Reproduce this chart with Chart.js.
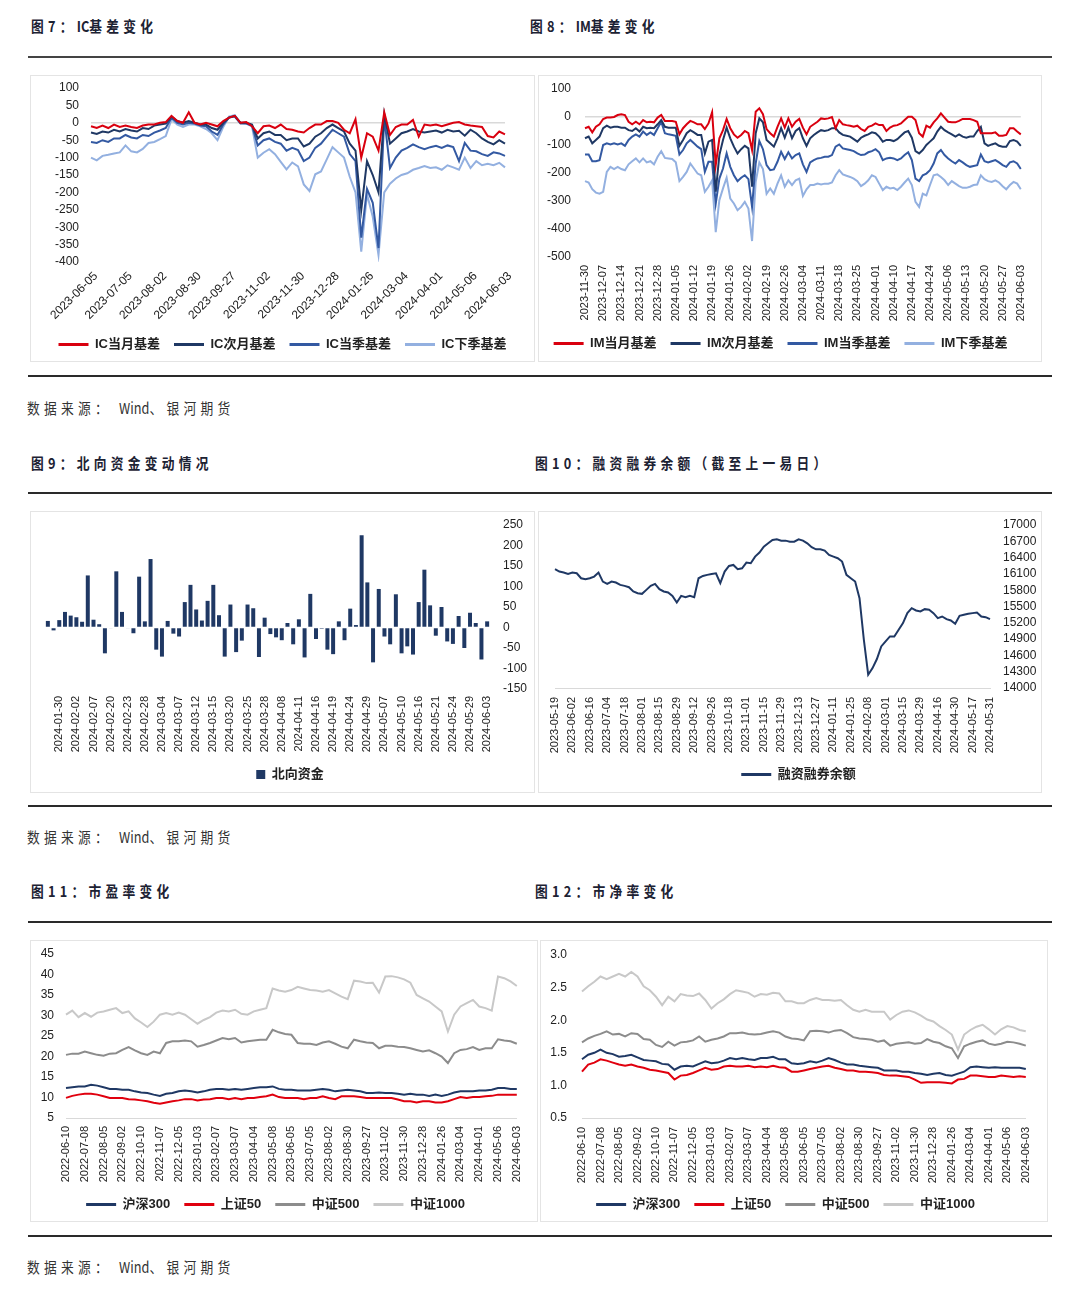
<!DOCTYPE html>
<html>
<head>
<meta charset="utf-8">
<script src="https://cdn.jsdelivr.net/npm/chart.js@4.4.1/dist/chart.umd.min.js"></script>
<style>
body { margin: 0; background: #fff; width: 1080px; height: 1297px; position: relative; overflow: hidden; font-family: "Noto Sans CJK SC", sans-serif; }
.title { position: absolute; font-size: 15px; font-weight: 700; color: #1c2233; letter-spacing: 5px; white-space: nowrap; transform: scaleX(0.85); transform-origin: left top; line-height: 16px; }
.title span, .src span { letter-spacing: 0; }
.src { position: absolute; left: 27px; font-size: 15px; color: #333; letter-spacing: 5px; white-space: nowrap; transform: scaleX(0.85); transform-origin: left top; line-height: 16px; }
.rule { position: absolute; left: 28px; width: 1024px; height: 2px; background: #2a2a2a; }
.box { position: absolute; border: 1px solid #e4e4e4; box-sizing: border-box; }
canvas { position: absolute; }
</style>
</head>
<body>

<div class="title" style="left:31px;top:18px">图7：<span>IC</span>基差变化</div>
<div class="title" style="left:530px;top:18px">图8：<span>IM</span>基差变化</div>
<div class="rule" style="top:56px;background:#444"></div>
<div class="box" style="left:30px;top:75px;width:505px;height:287px"></div>
<div class="box" style="left:538px;top:75px;width:504px;height:287px"></div>
<canvas id="c7" width="505" height="287" style="left:30px;top:75px"></canvas>
<canvas id="c8" width="504" height="287" style="left:538px;top:75px"></canvas>
<div class="rule" style="top:375px"></div>
<div class="src" style="top:400px">数据来源： <span>Wind</span>、银河期货</div>

<div class="title" style="left:31px;top:455px">图9：北向资金变动情况</div>
<div class="title" style="left:535px;top:455px">图10：融资融券余额（截至上一易日）</div>
<div class="rule" style="top:492px"></div>
<div class="box" style="left:30px;top:511px;width:505px;height:282px"></div>
<div class="box" style="left:538px;top:511px;width:504px;height:282px"></div>
<canvas id="c9" width="505" height="282" style="left:30px;top:511px"></canvas>
<canvas id="c10" width="504" height="282" style="left:538px;top:511px"></canvas>
<div class="rule" style="top:805px"></div>
<div class="src" style="top:829px">数据来源： <span>Wind</span>、银河期货</div>

<div class="title" style="left:31px;top:883px">图11：市盈率变化</div>
<div class="title" style="left:535px;top:883px">图12：市净率变化</div>
<div class="rule" style="top:921px"></div>
<div class="box" style="left:30px;top:940px;width:508px;height:282px"></div>
<div class="box" style="left:540px;top:940px;width:508px;height:282px"></div>
<canvas id="c11" width="508" height="282" style="left:30px;top:940px"></canvas>
<canvas id="c12" width="508" height="282" style="left:540px;top:940px"></canvas>
<div class="rule" style="top:1235px"></div>
<div class="src" style="top:1259px">数据来源： <span>Wind</span>、银河期货</div>

<script>
// ---- 图7 IC基差 (6 points between axis labels) ----
const icTicks = ['2023-06-05','2023-07-05','2023-08-02','2023-08-30','2023-09-27','2023-11-02','2023-11-30','2023-12-28','2024-01-26','2024-03-04','2024-04-01','2024-05-06','2024-06-03'];
const icDangyue = [-10,-15,-8,-15,-5,-12,-8,-12,-15,-8,-5,-5,0,2,20,5,0,30,0,-5,0,-5,-10,5,15,20,0,2,-10,-30,-10,-8,-15,-5,-18,-20,-25,-28,-15,-5,-5,5,5,0,-20,-30,10,-100,-30,-40,-80,30,-35,-12,-5,-5,8,-40,-5,-8,-5,-10,-5,0,2,-5,-8,-10,-12,-38,-42,-25,-33];
const icCiyue = [-28,-32,-25,-28,-20,-25,-18,-22,-25,-15,-18,-8,-5,-2,18,5,0,5,0,-5,-5,-15,-20,0,15,20,0,0,-5,-45,-30,-25,-35,-35,-50,-45,-45,-68,-60,-40,-30,-15,-5,-15,-25,-60,-80,-250,-110,-150,-200,25,-60,-45,-30,-25,-18,-25,-28,-25,-22,-28,-20,-25,-23,-37,-20,-30,-45,-55,-62,-50,-60];
const icDangji = [-55,-58,-50,-55,-45,-45,-35,-42,-45,-35,-38,-28,-22,-15,15,0,-5,0,-2,-8,-10,-25,-35,-5,15,18,-2,-2,-8,-65,-50,-45,-55,-60,-80,-72,-78,-110,-100,-72,-60,-40,-20,-30,-40,-90,-110,-330,-190,-230,-360,15,-130,-100,-80,-72,-62,-70,-76,-70,-66,-72,-65,-70,-110,-58,-80,-82,-90,-95,-85,-88,-95];
const icXiaji = [-100,-108,-95,-92,-88,-85,-65,-82,-85,-75,-58,-55,-47,-38,10,-5,-12,-5,-5,-10,-18,-30,-50,-12,18,22,0,-2,-10,-100,-86,-76,-90,-112,-134,-114,-125,-177,-196,-148,-140,-105,-70,-85,-100,-155,-200,-370,-205,-270,-380,-200,-175,-160,-150,-145,-135,-130,-124,-130,-128,-135,-122,-128,-135,-100,-130,-110,-122,-118,-122,-115,-128];

// ---- 图8 IM基差 (daily) ----
const imTicks = ['2023-11-30','2023-12-07','2023-12-14','2023-12-21','2023-12-28','2024-01-05','2024-01-12','2024-01-19','2024-01-26','2024-02-02','2024-02-19','2024-02-26','2024-03-04','2024-03-11','2024-03-18','2024-03-25','2024-04-01','2024-04-10','2024-04-17','2024-04-24','2024-05-06','2024-05-13','2024-05-20','2024-05-27','2024-06-03'];
const imDangyue = [-40,-35,-55,-35,-26,-7,-2,-2,0,7,10,7,-17,-26,-17,-26,-11,-19,-17,-19,-2,7,-14,-14,-14,-17,-62,-40,-26,-14,-19,-26,-26,-43,-23,17,-172,-76,-47,-7,-40,-62,-74,-64,-50,-58,-118,19,31,10,-43,-58,-70,-35,-5,-38,-5,-35,-17,-7,-38,-62,-35,-26,-17,-5,-7,-5,0,-40,-11,-26,-29,-31,-35,-31,-43,-50,-35,-31,-23,-29,-29,-50,-38,-31,-29,-23,-11,1,1,-11,-58,-70,-31,-38,-19,-5,13,-2,-17,-19,-19,-14,-7,-7,-7,-11,-17,-58,-58,-58,-58,-55,-67,-67,-64,-40,-40,-52,-62];
const imCiyue = [-76,-70,-94,-82,-70,-40,-31,-38,-35,-35,-38,-38,-47,-50,-40,-52,-35,-40,-38,-40,-26,-11,-35,-38,-38,-38,-103,-82,-58,-47,-55,-64,-64,-130,-88,-82,-267,-136,-82,-38,-76,-106,-130,-115,-103,-112,-249,-58,-5,-19,-82,-94,-106,-76,-40,-74,-38,-76,-50,-40,-76,-103,-76,-64,-55,-47,-50,-47,-40,-40,-55,-64,-67,-70,-79,-88,-74,-67,-62,-55,-58,-70,-88,-82,-82,-86,-79,-67,-55,-50,-74,-122,-130,-118,-100,-88,-76,-52,-35,-47,-55,-62,-70,-62,-70,-74,-70,-70,-50,-35,-94,-103,-98,-94,-103,-106,-106,-86,-82,-88,-103];
const imDangji = [-134,-134,-158,-158,-154,-100,-94,-98,-94,-98,-94,-103,-82,-70,-62,-70,-52,-64,-55,-64,-40,-17,-58,-62,-64,-67,-134,-118,-94,-82,-94,-106,-115,-196,-160,-160,-309,-220,-184,-130,-178,-208,-229,-217,-208,-222,-321,-166,-86,-115,-172,-190,-187,-160,-124,-150,-126,-148,-136,-130,-169,-196,-162,-154,-148,-146,-142,-142,-136,-106,-98,-112,-115,-118,-122,-130,-136,-134,-126,-122,-115,-126,-154,-148,-146,-148,-154,-148,-136,-126,-154,-220,-229,-208,-202,-190,-166,-130,-118,-136,-148,-158,-166,-154,-162,-172,-178,-175,-172,-134,-158,-162,-158,-154,-162,-172,-178,-162,-158,-166,-186];
const imXiaji = [-229,-234,-258,-270,-274,-267,-196,-178,-186,-178,-186,-190,-169,-158,-148,-162,-148,-162,-158,-169,-142,-122,-146,-148,-150,-162,-229,-214,-196,-166,-184,-202,-208,-267,-249,-226,-411,-297,-255,-217,-291,-309,-333,-321,-303,-327,-443,-232,-162,-186,-274,-255,-274,-238,-208,-249,-226,-243,-226,-220,-282,-258,-243,-243,-238,-241,-238,-238,-234,-208,-190,-205,-210,-214,-220,-229,-247,-238,-226,-208,-214,-238,-261,-249,-255,-253,-261,-249,-234,-220,-243,-303,-321,-274,-280,-243,-208,-205,-214,-226,-243,-229,-238,-247,-253,-253,-249,-243,-241,-208,-222,-229,-232,-226,-234,-247,-258,-243,-232,-238,-258];

// ---- 图9 北向资金 ----
const nbDates = ['2024-01-26','2024-01-29','2024-01-30','2024-01-31','2024-02-01','2024-02-02','2024-02-05','2024-02-06','2024-02-07','2024-02-08','2024-02-19','2024-02-20','2024-02-21','2024-02-22','2024-02-23','2024-02-26','2024-02-27','2024-02-28','2024-02-29','2024-03-01','2024-03-04','2024-03-05','2024-03-06','2024-03-07','2024-03-08','2024-03-11','2024-03-12','2024-03-13','2024-03-14','2024-03-15','2024-03-18','2024-03-19','2024-03-20','2024-03-21','2024-03-22','2024-03-25','2024-03-26','2024-03-27','2024-03-28','2024-04-02','2024-04-03','2024-04-08','2024-04-09','2024-04-10','2024-04-11','2024-04-12','2024-04-15','2024-04-16','2024-04-17','2024-04-18','2024-04-19','2024-04-22','2024-04-23','2024-04-24','2024-04-25','2024-04-26','2024-04-29','2024-04-30','2024-05-06','2024-05-07','2024-05-08','2024-05-09','2024-05-10','2024-05-13','2024-05-14','2024-05-16','2024-05-17','2024-05-20','2024-05-21','2024-05-22','2024-05-23','2024-05-24','2024-05-27','2024-05-28','2024-05-29','2024-05-30','2024-05-31','2024-06-03'];
const nbTicks = ['2024-01-30','2024-02-02','2024-02-07','2024-02-20','2024-02-23','2024-02-28','2024-03-04','2024-03-07','2024-03-12','2024-03-15','2024-03-20','2024-03-25','2024-03-28','2024-04-08','2024-04-11','2024-04-16','2024-04-19','2024-04-24','2024-04-29','2024-05-07','2024-05-10','2024-05-16','2024-05-21','2024-05-24','2024-05-29','2024-06-03'];
const nbValues = [16,-7,18,38,29,25,14,127,19,8,-63,-2,137,38,-2,-14,124,15,167,-54,-71,16,-15,-22,62,104,44,17,65,104,30,-71,56,-60,-32,56,47,-72,24,-16,-24,-31,11,-41,20,-73,82,-28,-3,-54,-65,15,-31,46,6,225,110,-85,94,-22,-41,81,-63,-46,-66,62,141,54,-20,50,-34,-40,28,-50,36,11,-78,15];

// ---- 图10 融资融券余额 (4 points between axis labels) ----
const marginTicks = ['2023-05-19','2023-06-02','2023-06-16','2023-07-04','2023-07-18','2023-08-01','2023-08-15','2023-08-29','2023-09-12','2023-09-26','2023-10-18','2023-11-01','2023-11-15','2023-11-29','2023-12-13','2023-12-27','2024-01-11','2024-01-25','2024-02-08','2024-03-01','2024-03-15','2024-03-29','2024-04-16','2024-04-30','2024-05-17','2024-05-31'];
const marginValues = [16186,16143,16125,16100,16125,16112,16020,16002,16020,16051,16125,15959,15916,15959,15941,15898,15880,15855,15776,15745,15733,15806,15880,15916,15818,15776,15757,15696,15574,15696,15672,15696,15672,16020,16063,16082,16100,16112,15929,16143,16247,16265,16186,16204,16308,16296,16418,16492,16602,16663,16724,16737,16712,16712,16694,16694,16737,16712,16663,16590,16553,16553,16529,16449,16418,16388,16327,16082,16020,15959,15653,14888,14245,14367,14533,14765,14857,14949,14949,15072,15194,15378,15469,15427,15408,15451,15439,15378,15286,15316,15267,15243,15182,15329,15347,15365,15378,15390,15316,15304,15267];

// ---- 图11/12 市盈率、市净率 (3 points between axis labels) ----
const valTicks = ['2022-06-10','2022-07-08','2022-08-05','2022-09-02','2022-10-10','2022-11-07','2022-12-05','2023-01-03','2023-02-07','2023-03-07','2023-04-04','2023-05-08','2023-06-05','2023-07-05','2023-08-02','2023-08-30','2023-09-27','2023-11-02','2023-11-30','2023-12-28','2024-01-26','2024-03-04','2024-04-01','2024-05-06','2024-06-03'];
const pe300 = [12.3,12.5,12.7,12.7,13.1,12.9,12.5,12.1,12.1,11.9,11.9,11.5,11.2,11.1,10.7,10.4,10.9,11.1,11.5,11.7,11.5,11.2,11.5,11.9,12.1,12.1,11.9,12.1,11.9,12.1,12.3,12.5,12.5,12.7,12.1,11.9,11.9,11.7,11.7,11.7,11.9,12.1,11.9,11.5,11.7,11.9,11.7,11.5,11.1,11.1,11.2,11.1,11.1,10.9,10.7,10.9,10.7,10.7,10.4,10.7,10.4,10.7,11.2,11.5,11.5,11.5,11.7,11.7,11.9,12.3,12.3,12.1,12.1];
const pe50 = [9.9,10.4,10.7,10.9,10.9,10.7,10.3,9.9,9.9,9.9,9.6,9.5,9.3,9.1,8.7,8.5,8.8,9.1,9.3,9.6,9.6,9.3,9.5,9.6,9.9,9.9,9.6,9.9,9.6,9.9,9.9,10.1,10.3,10.7,10.1,9.9,9.9,9.9,9.6,9.9,9.9,10.3,9.9,9.6,10.3,10.3,10.3,10.1,9.9,9.9,9.9,9.9,9.9,9.5,9.1,9.1,8.8,9.1,9.1,8.8,8.8,9.1,9.6,10.1,9.9,10.1,10.1,10.3,10.4,10.7,10.7,10.7,10.7];
const pe500 = [20.4,20.7,20.7,21.2,20.8,20.4,20.2,20.7,20.8,21.6,22.3,21.5,20.8,20.4,21.2,20.8,23.3,23.7,23.7,23.9,23.7,22.4,22.8,23.3,23.9,24.5,24.2,24.5,23.4,23.7,23.9,24.1,24.1,26.5,25.9,25.5,25.3,23.3,23.1,23.1,22.8,23.4,23.7,23.1,22.4,22.0,24.1,23.7,23.4,23.3,22.0,22.6,22.6,22.4,22.3,22.0,21.6,21.2,21.5,20.8,20.0,18.4,20.8,21.6,21.8,22.3,21.6,22.0,22.0,24.2,23.9,23.7,23.1];
const pe1000 = [30.2,31.2,29.6,30.6,29.7,30.7,31.0,31.4,31.8,30.6,31.0,29.3,28.3,27.2,28.5,30.2,30.6,30.2,30.7,30.2,29.1,28.0,28.9,29.6,30.7,31.2,31.0,31.4,30.4,30.2,31.0,31.4,31.8,36.6,36.1,35.8,36.2,37.0,36.6,36.2,36.1,35.8,36.2,35.4,34.6,34.0,38.5,38.3,37.9,38.0,35.6,39.5,39.6,39.3,38.8,38.0,35.0,34.2,33.4,32.2,31.0,26.1,30.2,32.2,33.0,33.8,32.2,31.8,31.2,39.5,39.1,38.3,37.2];
const pb300 = [1.40,1.47,1.50,1.55,1.50,1.48,1.44,1.45,1.47,1.43,1.39,1.38,1.37,1.33,1.32,1.24,1.29,1.30,1.29,1.33,1.37,1.34,1.35,1.38,1.42,1.40,1.42,1.40,1.39,1.42,1.42,1.44,1.40,1.40,1.34,1.33,1.34,1.37,1.35,1.38,1.42,1.39,1.35,1.32,1.32,1.30,1.29,1.28,1.27,1.23,1.23,1.23,1.21,1.21,1.19,1.18,1.16,1.18,1.19,1.16,1.15,1.18,1.21,1.28,1.29,1.28,1.27,1.28,1.27,1.27,1.27,1.27,1.25];
const pb50 = [1.21,1.32,1.35,1.40,1.38,1.35,1.32,1.30,1.32,1.29,1.27,1.24,1.23,1.21,1.19,1.09,1.15,1.16,1.19,1.23,1.27,1.24,1.25,1.29,1.30,1.29,1.29,1.30,1.28,1.29,1.28,1.30,1.28,1.27,1.21,1.21,1.23,1.25,1.27,1.29,1.30,1.27,1.25,1.23,1.23,1.21,1.21,1.20,1.19,1.16,1.15,1.15,1.14,1.13,1.09,1.04,1.05,1.05,1.05,1.04,1.03,1.09,1.10,1.15,1.15,1.14,1.13,1.13,1.15,1.14,1.13,1.14,1.13];
const pb500 = [1.66,1.72,1.76,1.79,1.83,1.78,1.79,1.75,1.80,1.79,1.71,1.70,1.62,1.59,1.67,1.61,1.66,1.67,1.69,1.75,1.67,1.70,1.72,1.75,1.80,1.80,1.81,1.79,1.78,1.79,1.81,1.83,1.81,1.75,1.72,1.71,1.69,1.83,1.84,1.83,1.81,1.84,1.85,1.80,1.74,1.72,1.71,1.70,1.67,1.69,1.61,1.64,1.65,1.66,1.64,1.65,1.71,1.67,1.65,1.60,1.57,1.42,1.60,1.64,1.67,1.69,1.64,1.62,1.64,1.67,1.66,1.64,1.61];
const pb1000 = [2.44,2.52,2.59,2.67,2.63,2.67,2.71,2.67,2.74,2.67,2.52,2.46,2.36,2.23,2.36,2.29,2.40,2.38,2.37,2.41,2.31,2.18,2.26,2.32,2.40,2.46,2.44,2.42,2.36,2.40,2.39,2.42,2.41,2.29,2.29,2.26,2.26,2.31,2.34,2.31,2.31,2.30,2.31,2.23,2.16,2.13,2.16,2.13,2.13,2.13,2.01,2.08,2.13,2.15,2.12,2.07,2.01,1.98,1.91,1.85,1.78,1.55,1.78,1.85,1.90,1.93,1.86,1.78,1.86,1.91,1.89,1.85,1.83];

const RED = '#d9000f', NAVY = '#1f3864', MID = '#3359a2', LIGHT = '#93b0e0';

Chart.defaults.font.family = '"Liberation Sans", Arial, "Noto Sans CJK SC", sans-serif';
Chart.defaults.color = '#222';
Chart.defaults.animation = false;

// tick labels with blanks between them, one label every n points
function buildLabels(ticks, n) {
  const out = [];
  ticks.forEach((t, i) => {
    out.push(t);
    if (i < ticks.length - 1) for (let k = 1; k < n; k++) out.push('');
  });
  return out;
}

function line(label, data, color) {
  return { label, data, borderColor: color, backgroundColor: color, borderWidth: 2, pointRadius: 0, tension: 0 };
}

function legend(boxW, boxH) {
  return {
    position: 'bottom',
    labels: {
      boxWidth: boxW, boxHeight: boxH, padding: 14, color: '#222',
      font: { size: 13, weight: 'bold' },
      generateLabels: chart => Chart.defaults.plugins.legend.labels.generateLabels(chart)
        .map(item => Object.assign(item, { lineWidth: 0 }))
    }
  };
}

function xAxis(rot, size, height, pad, borderColor, callback, labelOffset) {
  const ticks = { autoSkip: false, minRotation: rot, maxRotation: rot, padding: pad, labelOffset: labelOffset || 0, font: { size: size }, color: '#222' };
  if (callback) ticks.callback = callback;
  return {
    ticks,
    grid: { display: false, drawTicks: false },
    border: borderColor ? { display: true, color: borderColor, width: 1 } : { display: false },
    afterFit: s => { s.height = height; }
  };
}

// gap between labels and plot comes from an invisible tick mark,
// so the small tick padding does not push the plot area down
function yAxis(opts) {
  const clear = 'rgba(0,0,0,0)';
  return {
    position: opts.position || 'left',
    min: opts.min, max: opts.max,
    ticks: { autoSkip: false, stepSize: opts.step, padding: 3, font: { size: 12 }, color: '#222', callback: opts.fmt || (v => String(v)) },
    grid: {
      drawTicks: true, tickLength: opts.gap - 3, tickColor: clear, lineWidth: 1.5,
      color: c => opts.zero && c.tick.value === 0 ? '#d9d9d9' : clear
    },
    border: { display: false },
    afterFit: s => { s.width = opts.width; }
  };
}

// 图7
new Chart(document.getElementById('c7'), {
  type: 'line',
  data: {
    labels: buildLabels(icTicks, 6),
    datasets: [
      line('IC当月基差', icDangyue, RED),
      line('IC次月基差', icCiyue, NAVY),
      line('IC当季基差', icDangji, MID),
      line('IC下季基差', icXiaji, LIGHT)
    ]
  },
  options: {
    responsive: false,
    layout: { padding: { top: 13, right: 0, left: 0, bottom: 1 } },
    plugins: { legend: legend(30, 3), tooltip: { enabled: false } },
    scales: {
      x: xAxis(45, 12, 62, 7, null, null, 5),
      y: yAxis({ min: -400, max: 100, step: 50, gap: 12, width: 61, zero: true }),
      // empty right margin, keeps the legend the full width of the box
      edge: { position: 'right', ticks: { display: false }, grid: { display: false, drawTicks: false }, border: { display: false }, afterFit: s => { s.width = 30; } }
    }
  }
});

// 图8
new Chart(document.getElementById('c8'), {
  type: 'line',
  data: {
    labels: buildLabels(imTicks, 5),
    datasets: [
      line('IM当月基差', imDangyue, RED),
      line('IM次月基差', imCiyue, NAVY),
      line('IM当季基差', imDangji, MID),
      line('IM下季基差', imXiaji, LIGHT)
    ]
  },
  options: {
    responsive: false,
    layout: { padding: { top: 14, right: 19, left: 0, bottom: 2 } },
    plugins: { legend: legend(30, 3), tooltip: { enabled: false } },
    scales: {
      x: xAxis(90, 11, 66, 8),
      y: yAxis({ min: -500, max: 100, step: 100, gap: 14, width: 47, zero: true })
    }
  }
});

// 图9
new Chart(document.getElementById('c9'), {
  type: 'bar',
  data: {
    labels: nbDates,
    datasets: [{ label: '北向资金', data: nbValues, backgroundColor: NAVY, barPercentage: 0.7, categoryPercentage: 1 }]
  },
  options: {
    responsive: false,
    layout: { padding: { top: 14, right: 0, left: 15, bottom: 2 } },
    plugins: { legend: legend(9, 9), tooltip: { enabled: false } },
    scales: {
      x: xAxis(90, 11, 65, 7, null, (v, i) => nbTicks.includes(nbDates[i]) ? nbDates[i] : ''),
      y: yAxis({ position: 'right', min: -150, max: 250, step: 50, gap: 13, width: 45 })
    }
  }
});

// 图10
new Chart(document.getElementById('c10'), {
  type: 'line',
  data: {
    labels: buildLabels(marginTicks, 4),
    datasets: [line('融资融券余额', marginValues, NAVY)]
  },
  options: {
    responsive: false,
    layout: { padding: { top: 14, right: 0, left: 17, bottom: 2 } },
    plugins: { legend: legend(30, 3), tooltip: { enabled: false } },
    scales: {
      x: xAxis(90, 11, 66, 9, '#d9d9d9'),
      y: yAxis({ position: 'right', min: 14000, max: 17000, step: 300, gap: 13, width: 52 })
    }
  }
});

// 图11
new Chart(document.getElementById('c11'), {
  type: 'line',
  data: {
    labels: buildLabels(valTicks, 3),
    datasets: [
      line('沪深300', pe300, NAVY),
      line('上证50', pe50, '#e0000e'),
      line('中证500', pe500, '#8c8c8c'),
      line('中证1000', pe1000, '#c8c8c8')
    ]
  },
  options: {
    responsive: false,
    layout: { padding: { top: 14, right: 17, left: 0, bottom: 1 } },
    plugins: { legend: legend(30, 3), tooltip: { enabled: false } },
    scales: {
      x: xAxis(90, 11, 66, 8, '#d9d9d9'),
      y: yAxis({ min: 5, max: 45, step: 5, gap: 12, width: 36 })
    }
  }
});

// 图12
new Chart(document.getElementById('c12'), {
  type: 'line',
  data: {
    labels: buildLabels(valTicks, 3),
    datasets: [
      line('沪深300', pb300, NAVY),
      line('上证50', pb50, '#e0000e'),
      line('中证500', pb500, '#8c8c8c'),
      line('中证1000', pb1000, '#c8c8c8')
    ]
  },
  options: {
    responsive: false,
    layout: { padding: { top: 15, right: 17, left: 0, bottom: 1 } },
    plugins: { legend: legend(30, 3), tooltip: { enabled: false } },
    scales: {
      x: xAxis(90, 11, 66, 9, '#d9d9d9'),
      y: yAxis({ min: 0.5, max: 3.0, step: 0.5, gap: 15, width: 42, fmt: v => v.toFixed(1) })
    }
  }
});
</script>
</body>
</html>
